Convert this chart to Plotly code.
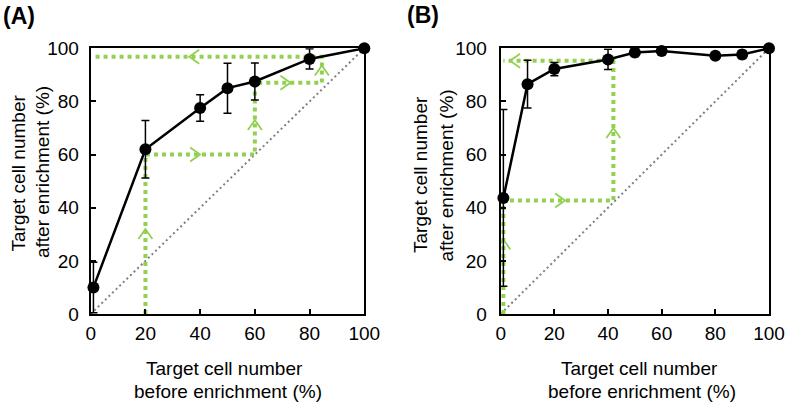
import plotly.graph_objects as go

W, H = 787, 409

# ---------------- data ----------------
tick_vals = [0, 20, 40, 60, 80, 100]
diag_x = [0, 100]
diag_y = [0, 100]

# Panel A
a_x = [1, 20, 40, 50, 60, 80, 100]
a_y = [10, 62, 77.5, 85, 87.5, 96, 100]
a_err = [9.5, 10.8, 5, 9.4, 7, 3.8, 0]
a_guide_x = [20, 20, 60, 60, 84.5, 84.5, 1]
a_guide_y = [0, 60, 60, 87, 87, 96.8, 96.8]
a_arrow_x = [20, 40, 60, 73, 84.5, 36]
a_arrow_y = [32, 60, 73, 87, 93.5, 96.8]
a_arrow_dir = ["up", "right", "up", "right", "up", "left"]

# Panel B
b_x = [1, 10, 20, 40, 50, 60, 80, 90, 100]
b_y = [43.7, 86.5, 92.2, 95.8, 98.4, 99, 97.2, 97.7, 100]
b_err = [33.3, 9, 2.5, 3.8, 1.5, 0.8, 1, 1.5, 0]
b_guide_x = [1, 1, 42, 42, 1]
b_guide_y = [0, 42.7, 42.7, 95.3, 95.3]
b_arrow_x = [1, 24, 42, 3.5]
b_arrow_y = [28, 42.7, 70, 95.3]
b_arrow_dir = ["up", "right", "up", "left"]

# ---------------- style ----------------
GREEN = "#92D050"
FONT = "Liberation Sans, Arial, sans-serif"
TOP, BOTTOM = 48.3, 314.0
A_L, A_R = 90.7, 364.3
B_L, B_R = 500.7, 769.0
XR = [0, 100]
YR = [0, 100]


def dom_x(l, r):
    return [l / W, r / W]


def dom_y(t, b):
    return [(H - b) / H, (H - t) / H]


def chevrons(xs, ys, dirs, sx, sy, depth=10, half=7):
    px, py = [], []
    for x, y, d in zip(xs, ys, dirs):
        if d == "up":
            pts = [(x - half / sx, y - depth / sy), (x, y), (x + half / sx, y - depth / sy)]
        elif d == "right":
            pts = [(x - depth / sx, y + half / sy), (x, y), (x - depth / sx, y - half / sy)]
        else:
            pts = [(x + depth / sx, y + half / sy), (x, y), (x + depth / sx, y - half / sy)]
        for p in pts:
            px.append(p[0])
            py.append(p[1])
        px.append(None)
        py.append(None)
    return px, py


fig = go.Figure()


def add_panel(xa, ya, xs, ys, errs, gx, gy, ax_, ay_, ad, L, R):
    sx = (R - L) / (XR[1] - XR[0])
    sy = (BOTTOM - TOP) / (YR[1] - YR[0])
    fig.add_trace(go.Scatter(x=diag_x, y=diag_y, mode="lines", xaxis=xa, yaxis=ya,
                             line=dict(color="#808080", width=2, dash="2px,3px"),
                             hoverinfo="skip", showlegend=False))
    fig.add_trace(go.Scatter(x=gx, y=gy, mode="lines", xaxis=xa, yaxis=ya,
                             line=dict(color=GREEN, width=4, dash="4px,4px"),
                             hoverinfo="skip", showlegend=False))
    cx, cy = chevrons(ax_, ay_, ad, sx, sy)
    fig.add_trace(go.Scatter(x=cx, y=cy, mode="lines", xaxis=xa, yaxis=ya,
                             line=dict(color=GREEN, width=1.8),
                             hoverinfo="skip", showlegend=False, cliponaxis=False))
    fig.add_trace(go.Scatter(x=xs, y=ys, mode="lines+markers", xaxis=xa, yaxis=ya,
                             line=dict(color="black", width=2.5),
                             marker=dict(color="black", size=12),
                             error_y=dict(type="data", array=errs, visible=True,
                                          color="black", thickness=1.5, width=4),
                             cliponaxis=False, showlegend=False))


add_panel("x", "y", a_x, a_y, a_err, a_guide_x, a_guide_y,
          a_arrow_x, a_arrow_y, a_arrow_dir, A_L, A_R)
add_panel("x2", "y2", b_x, b_y, b_err, b_guide_x, b_guide_y,
          b_arrow_x, b_arrow_y, b_arrow_dir, B_L, B_R)

axis_common = dict(
    range=XR, showline=True, linecolor="black", linewidth=2, mirror=True,
    ticks="inside", ticklen=5, tickwidth=2, tickcolor="black",
    tickvals=tick_vals, showgrid=False, zeroline=False,
    tickfont=dict(family=FONT, size=19, color="black"),
    fixedrange=True, automargin=False,
)

fig.update_layout(
    width=W, height=H, autosize=False,
    margin=dict(l=0, r=0, t=0, b=0, pad=0, autoexpand=False),
    paper_bgcolor="white", plot_bgcolor="white",
    font=dict(family=FONT, color="black"),
    xaxis=dict(axis_common, domain=dom_x(A_L, A_R), anchor="y", ticklabelstandoff=1),
    yaxis=dict(axis_common, domain=dom_y(TOP, BOTTOM), anchor="x", ticklabelstandoff=6),
    xaxis2=dict(axis_common, domain=dom_x(B_L, B_R), anchor="y2", ticklabelstandoff=1),
    yaxis2=dict(axis_common, domain=dom_y(TOP, BOTTOM), anchor="x2", ticklabelstandoff=8),
)

title_font = dict(family=FONT, size=19, color="black")
ann = []


def txt(text, x, y, angle=0, font=title_font):
    ann.append(dict(text=text, x=x / W, y=(H - y) / H, xref="paper", yref="paper",
                    xanchor="center", yanchor="middle", showarrow=False,
                    textangle=angle, font=font))


# x titles
txt("Target cell number", 225, 368)
txt("before enrichment (%)", 228, 391)
txt("Target cell number", 639, 368)
txt("before enrichment (%)", 642, 391)
# y titles
txt("Target cell number", 17.5, 173, -90)
txt("after enrichment (%)", 42, 172, -90)
txt("Target cell number", 421, 174, -90)
txt("after enrichment (%)", 445.5, 176, -90)
# panel labels
lab_font = dict(family=FONT, size=23, color="black")
txt("<b>(A)</b>", 19, 16, 0, lab_font)
txt("<b>(B)</b>", 423, 15, 0, lab_font)

fig.update_layout(annotations=ann)
fig.write_html("out.html",
               config={"displayModeBar": False, "staticPlot": True},
               post_script="document.body.style.margin='0px';document.body.style.overflow='hidden';")
